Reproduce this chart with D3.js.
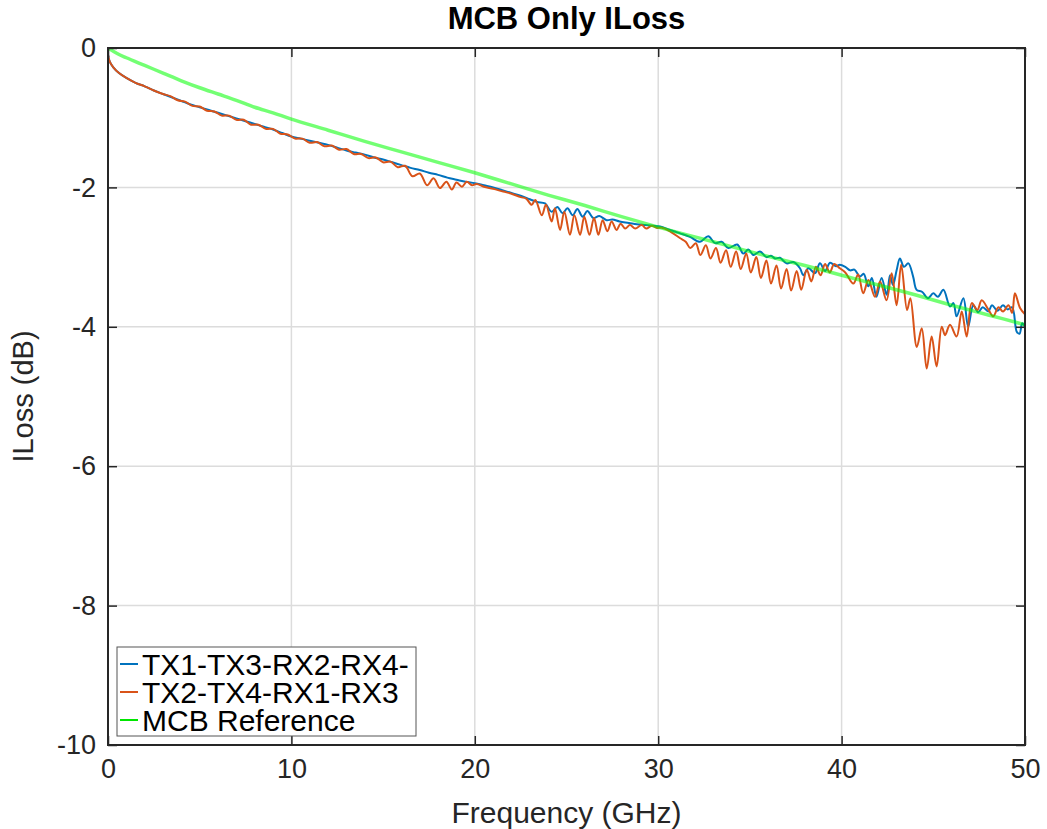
<!DOCTYPE html>
<html>
<head>
<meta charset="utf-8">
<script src="https://cdn.jsdelivr.net/npm/d3@7"></script>
<style>
  body { margin: 0; background: #fff; }
  svg { font-family: "Liberation Sans", Arial, sans-serif; }
</style>
</head>
<body>
<script>
// readings of the plot: [frequency GHz, insertion loss dB]
const tx13 = [[0,-0.10],[0.1,-0.20],[0.3,-0.28],[0.6,-0.36],[1,-0.43],[1.5,-0.50],[2,-0.55],[2.5,-0.61],[3,-0.66],[3.5,-0.71],[4,-0.76],[4.5,-0.81],[5,-0.85],[5.5,-0.89],[6,-0.93],[6.5,-0.97],[7,-1.01],[7.5,-1.05],[8,-1.09],[8.5,-1.13],[9,-1.17],[9.5,-1.22],[10,-1.27],[10.5,-1.30],[11,-1.33],[11.5,-1.36],[12,-1.39],[12.5,-1.43],[13,-1.47],[13.5,-1.50],[14,-1.53],[14.5,-1.57],[15,-1.60],[15.5,-1.64],[16,-1.68],[16.5,-1.72],[17,-1.75],[17.5,-1.79],[18,-1.82],[18.5,-1.86],[19,-1.89],[19.5,-1.92],[20,-1.94],[20.5,-1.97],[21,-2.00],[21.5,-2.04],[22,-2.08],[22.5,-2.12],[23,-2.17],[23.4,-2.21],[23.83,-2.23],[24.19,-2.35],[24.5,-2.28],[24.79,-2.37],[25.05,-2.30],[25.34,-2.40],[25.59,-2.31],[25.88,-2.42],[26.14,-2.34],[26.46,-2.44],[26.79,-2.41],[27.19,-2.47],[27.5,-2.46],[27.9,-2.49],[28.4,-2.51],[28.83,-2.53],[29.3,-2.54],[29.7,-2.55],[30.1,-2.56],[30.64,-2.61],[31.2,-2.66],[31.73,-2.71],[32.28,-2.78],[32.73,-2.70],[33.1,-2.80],[33.46,-2.78],[33.82,-2.87],[34.31,-2.82],[34.64,-2.95],[34.91,-2.89],[35.19,-2.97],[35.55,-2.92],[35.9,-3.00],[36.15,-2.98],[36.37,-3.02],[36.64,-3.01],[37.0,-3.09],[37.37,-3.07],[37.73,-3.16],[37.91,-3.26],[38.19,-3.16],[38.55,-3.23],[38.82,-3.09],[39.1,-3.20],[39.37,-3.08],[39.7,-3.13],[39.9,-3.11],[40.2,-3.14],[40.46,-3.19],[40.7,-3.18],[41.0,-3.28],[41.2,-3.24],[41.46,-3.42],[41.65,-3.30],[41.9,-3.57],[42.18,-3.30],[42.46,-3.54],[42.64,-3.26],[42.8,-3.40],[43.0,-3.19],[43.18,-3.02],[43.4,-3.14],[43.64,-3.09],[43.9,-3.28],[44.09,-3.47],[44.4,-3.50],[44.7,-3.59],[45.0,-3.52],[45.25,-3.57],[45.55,-3.47],[45.91,-3.71],[46.1,-3.66],[46.27,-3.85],[46.64,-3.59],[46.9,-4.00],[47.18,-3.69],[47.45,-3.79],[47.7,-3.72],[48.0,-3.78],[48.2,-3.69],[48.5,-3.77],[48.8,-3.69],[49.05,-3.75],[49.3,-3.72],[49.55,-4.07],[49.7,-4.10],[49.85,-3.95],[50,-4.00]];

const tx24 = [[0,-0.10],[0.1,-0.20],[0.3,-0.28],[0.6,-0.36],[1,-0.43],[1.5,-0.50],[2,-0.55],[2.5,-0.61],[3,-0.66],[3.4,-0.69],[3.8,-0.75],[4.2,-0.77],[4.6,-0.83],[5,-0.84],[5.4,-0.90],[5.8,-0.91],[6.2,-0.97],[6.6,-0.97],[7,-1.03],[7.4,-1.03],[7.8,-1.10],[8.2,-1.10],[8.6,-1.16],[9,-1.16],[9.4,-1.23],[9.8,-1.24],[10.2,-1.30],[10.6,-1.30],[11,-1.36],[11.4,-1.35],[11.8,-1.41],[12.2,-1.40],[12.6,-1.46],[13,-1.45],[13.4,-1.52],[13.8,-1.52],[14.2,-1.58],[14.6,-1.57],[15,-1.64],[15.4,-1.63],[15.8,-1.71],[16.2,-1.69],[16.6,-1.84],[17,-1.80],[17.4,-1.97],[17.75,-1.87],[18.1,-2.01],[18.45,-1.92],[18.75,-2.03],[19,-1.93],[19.3,-1.99],[19.56,-1.92],[19.85,-1.97],[20.1,-1.95],[20.5,-1.99],[21,-2.02],[21.55,-2.06],[22,-2.09],[22.5,-2.14],[22.8,-2.16],[23.1,-2.25],[23.3,-2.18],[23.65,-2.40],[23.88,-2.25],[24.19,-2.49],[24.37,-2.30],[24.65,-2.61],[24.88,-2.35],[25.19,-2.68],[25.43,-2.40],[25.74,-2.68],[25.97,-2.42],[26.25,-2.68],[26.5,-2.44],[26.74,-2.68],[26.97,-2.47],[27.23,-2.63],[27.46,-2.49],[27.73,-2.61],[27.95,-2.52],[28.2,-2.59],[28.46,-2.54],[28.75,-2.59],[29.1,-2.54],[29.35,-2.59],[29.65,-2.55],[29.9,-2.58],[30.2,-2.58],[30.64,-2.63],[31.2,-2.73],[31.5,-2.78],[31.75,-2.87],[32.05,-2.80],[32.3,-2.97],[32.6,-2.83],[32.85,-3.02],[33.15,-2.87],[33.4,-3.08],[33.7,-2.90],[33.95,-3.14],[34.25,-2.92],[34.5,-3.17],[34.8,-2.95],[35.05,-3.22],[35.35,-3.00],[35.6,-3.30],[35.9,-3.05],[36.15,-3.38],[36.45,-3.12],[36.7,-3.45],[37.0,-3.17],[37.25,-3.48],[37.55,-3.20],[37.8,-3.47],[38.1,-3.18],[38.35,-3.35],[38.6,-3.14],[38.85,-3.26],[39.1,-3.10],[39.35,-3.22],[39.6,-3.10],[39.9,-3.16],[40.2,-3.22],[40.64,-3.38],[40.9,-3.25],[41.18,-3.52],[41.46,-3.33],[41.82,-3.57],[42.1,-3.35],[42.45,-3.62],[42.73,-3.23],[43.0,-3.69],[43.25,-3.11],[43.57,-3.76],[43.75,-3.59],[44.1,-4.29],[44.37,-4.02],[44.64,-4.60],[44.91,-4.14],[45.18,-4.57],[45.46,-4.00],[45.64,-4.12],[45.91,-3.97],[46.27,-4.14],[46.55,-3.78],[46.82,-4.14],[47.1,-3.66],[47.4,-3.76],[47.64,-3.62],[48.0,-3.75],[48.27,-3.85],[48.55,-3.72],[48.8,-3.78],[49.1,-3.69],[49.3,-3.80],[49.45,-3.52],[49.73,-3.73],[50,-3.82]];

const mcbRef = [[0,0],[0.5,-0.08],[1,-0.14],[2,-0.25],[3,-0.36],[4,-0.47],[5,-0.57],[6,-0.66],[7,-0.75],[8,-0.85],[9,-0.93],[10,-1.02],[12,-1.18],[14,-1.34],[16,-1.49],[18,-1.64],[20,-1.79],[22,-1.95],[24,-2.11],[26,-2.26],[28,-2.42],[30,-2.57],[32,-2.71],[34,-2.85],[36,-2.99],[38,-3.12],[40,-3.26],[42,-3.40],[44,-3.54],[46,-3.69],[48,-3.83],[50,-3.97]];

const seriesNames = ["TX1-TX3-RX2-RX4-", "TX2-TX4-RX1-RX3", "MCB Reference"];
const xTicks = [0, 10, 20, 30, 40, 50];
const yTicks = [0, -2, -4, -6, -8, -10];

const W = 1047, H = 829;
const margin = {left: 108, right: 22, top: 48, bottom: 84};
const pw = W - margin.left - margin.right;
const ph = H - margin.top - margin.bottom;

const svg = d3.select("body").append("svg")
    .attr("width", W)
    .attr("height", H);

const x = d3.scaleLinear().domain([0, 50]).range([0, pw]);
const y = d3.scaleLinear().domain([-10, 0]).range([ph, 0]);

const g = svg.append("g").attr("transform", `translate(${margin.left},${margin.top})`);

svg.append("defs").append("clipPath").attr("id", "plotclip")
    .append("rect").attr("width", pw).attr("height", ph);

// grid
g.append("g")
    .selectAll("line")
    .data(xTicks.slice(1, -1))
    .join("line")
    .attr("x1", d => x(d)).attr("x2", d => x(d))
    .attr("y1", 0).attr("y2", ph)
    .attr("stroke", "#dcdcdc").attr("stroke-width", 1.5);

g.append("g")
    .selectAll("line")
    .data(yTicks.slice(1, -1))
    .join("line")
    .attr("x1", 0).attr("x2", pw)
    .attr("y1", d => y(d)).attr("y2", d => y(d))
    .attr("stroke", "#dcdcdc").attr("stroke-width", 1.5);

// lines
const line = d3.line()
    .x(d => x(d[0]))
    .y(d => y(d[1]))
    .curve(d3.curveCatmullRom.alpha(0.5));

const plot = g.append("g").attr("clip-path", "url(#plotclip)");

plot.append("path").datum(tx13)
    .attr("d", line).attr("fill", "none")
    .attr("stroke", "#0072bd").attr("stroke-width", 2);

plot.append("path").datum(tx24)
    .attr("d", line).attr("fill", "none")
    .attr("stroke", "#d95319").attr("stroke-width", 2);

plot.append("path").datum(mcbRef)
    .attr("d", line).attr("fill", "none")
    .attr("stroke", "#00ff00").attr("stroke-opacity", 0.55).attr("stroke-width", 3.5);

// axes
const axisColor = "#262626";
const fontTick = 27;
const fmt = d => String(d);

const xAxis = g.append("g").attr("transform", `translate(0,${ph})`)
    .call(d3.axisBottom(x).tickValues(xTicks).tickSizeInner(-9).tickSizeOuter(0).tickPadding(14).tickFormat(fmt));
const xTop = g.append("g")
    .call(d3.axisTop(x).tickValues(xTicks).tickSizeInner(-9).tickSizeOuter(0).tickFormat(""));
const yAxis = g.append("g")
    .call(d3.axisLeft(y).tickValues(yTicks).tickSizeInner(-9).tickSizeOuter(0).tickPadding(12).tickFormat(fmt));
const yRight = g.append("g").attr("transform", `translate(${pw},0)`)
    .call(d3.axisRight(y).tickValues(yTicks).tickSizeInner(-9).tickSizeOuter(0).tickFormat(""));

[xAxis, xTop, yAxis, yRight].forEach(a => {
    a.select(".domain").remove();
    a.selectAll("line").attr("stroke", axisColor).attr("stroke-width", 1.5);
    a.selectAll("text").attr("font-size", fontTick).attr("fill", axisColor)
        .attr("font-family", "Liberation Sans, Arial, sans-serif");
});

g.append("rect")
    .attr("width", pw).attr("height", ph)
    .attr("fill", "none").attr("stroke", axisColor).attr("stroke-width", 2);

// labels
svg.append("text")
    .attr("x", margin.left + pw / 2).attr("y", 29)
    .attr("text-anchor", "middle")
    .attr("font-size", 31).attr("font-weight", "bold").attr("fill", "#000")
    .text("MCB Only ILoss");

svg.append("text")
    .attr("x", margin.left + pw / 2).attr("y", 823)
    .attr("text-anchor", "middle")
    .attr("font-size", 30).attr("fill", axisColor)
    .text("Frequency (GHz)");

svg.append("text")
    .attr("transform", `translate(33,${margin.top + ph / 2}) rotate(-90)`)
    .attr("text-anchor", "middle")
    .attr("font-size", 29).attr("fill", axisColor)
    .text("ILoss (dB)");

// legend
const legendColors = ["#0072bd", "#d95319", "#00e600"];
const leg = svg.append("g").attr("transform", "translate(117,647)");
leg.append("rect")
    .attr("width", 299).attr("height", 89)
    .attr("fill", "#fff").attr("stroke", "#555").attr("stroke-width", 1);

const rows = leg.selectAll("g")
    .data(seriesNames)
    .join("g")
    .attr("transform", (d, i) => `translate(0,${17 + i * 28})`);

rows.append("line")
    .attr("x1", 3).attr("x2", 21).attr("y1", 0).attr("y2", 0)
    .attr("stroke", (d, i) => legendColors[i]).attr("stroke-width", 2);

rows.append("text")
    .attr("x", 25).attr("y", 11)
    .attr("font-size", 30).attr("fill", "#000")
    .text(d => d);
</script>
</body>
</html>
